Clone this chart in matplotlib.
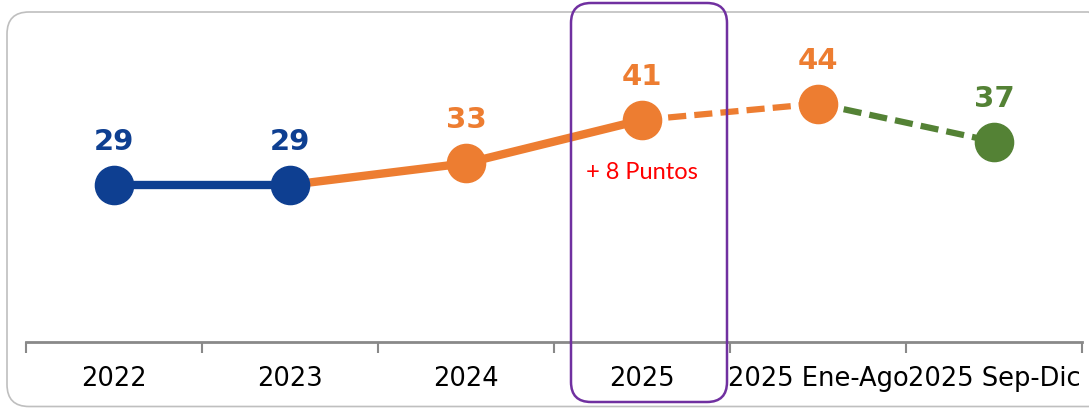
"""Line chart 2022-2025 with highlighted 2025 box."""

import matplotlib

matplotlib.use("Agg")
import matplotlib.pyplot as plt
from matplotlib.patches import FancyBboxPatch
from matplotlib.transforms import IdentityTransform

categories = ["2022", "2023", "2024", "2025", "2025 Ene-Ago", "2025 Sep-Dic"]
values = [29, 29, 33, 41, 44, 37]
point_colors = ["#0E3F91", "#0E3F91", "#ED7D31", "#ED7D31", "#ED7D31", "#548235"]
# (start, end, color, style)
segments = [
    (0, 1, "#0E3F91", "solid"),
    (1, 3, "#ED7D31", "solid"),
    (3, 4, "#ED7D31", "dashed"),
    (4, 5, "#548235", "dashed"),
]
note_text = "+ 8 Puntos"

W, H = 1089, 408
fig = plt.figure(figsize=(W / 100, H / 100), dpi=100)
ax = fig.add_axes([26 / W, 66 / H, (1082 - 26) / W, 325 / H])


def rounded_box(x0, y0, x1, y1, color, lw, radius):
    # pixel coords, origin bottom-left
    p = FancyBboxPatch((x0, y0), x1 - x0, y1 - y0,
                       boxstyle=f"round,pad=0,rounding_size={radius}",
                       transform=IdentityTransform(), facecolor="none",
                       edgecolor=color, linewidth=lw, zorder=5)
    fig.patches.append(p)


rounded_box(7, 1.5, 1110, 396, "#BFBFBF", 1.2, 22)

x = list(range(len(categories)))
for a, b, c, style in segments:
    xs = x[a:b + 1]
    ys = values[a:b + 1]
    if style == "solid":
        ax.plot(xs, ys, color=c, linewidth=6, zorder=2)
    else:
        ax.plot(xs, ys, color=c, linewidth=4.5, dashes=(2.9, 1.3),
                dash_capstyle="butt", zorder=2)

for xi, v, c in zip(x, values, point_colors):
    ax.plot(xi, v, "o", color=c, markersize=27.5, zorder=3)
    ax.annotate(str(v), (xi, v), xytext=(0, 31), textcoords="offset points",
                ha="center", va="center", fontsize=21, fontweight="bold",
                color=c, family="DejaVu Sans")

ax.annotate(note_text, (3, values[3]), xytext=(0, -38), textcoords="offset points",
            ha="center", va="center", fontsize=17, color="#FF0000", family="Lato")

ax.set_xlim(-0.5, len(categories) - 0.5)
ax.set_ylim(0, 60)
ax.set_yticks([])
ax.set_xticks(x)
ax.set_xticklabels(categories, fontsize=18.5, color="black", family="DejaVu Sans")
ax.tick_params(axis="x", which="major", length=0, pad=17)
ax.set_xticks([i - 0.5 for i in range(len(categories) + 1)], minor=True)
ax.tick_params(axis="x", which="minor", length=8, width=1.5, color="#898989")
for s in ["top", "right", "left"]:
    ax.spines[s].set_visible(False)
ax.spines["bottom"].set_color("#898989")
ax.spines["bottom"].set_linewidth(2)
ax.patch.set_alpha(0)

# highlight box around 2025
rounded_box(571, 6, 727, 405, "#7030A0", 1.8, 20)

fig.savefig("out.png", dpi=100)
